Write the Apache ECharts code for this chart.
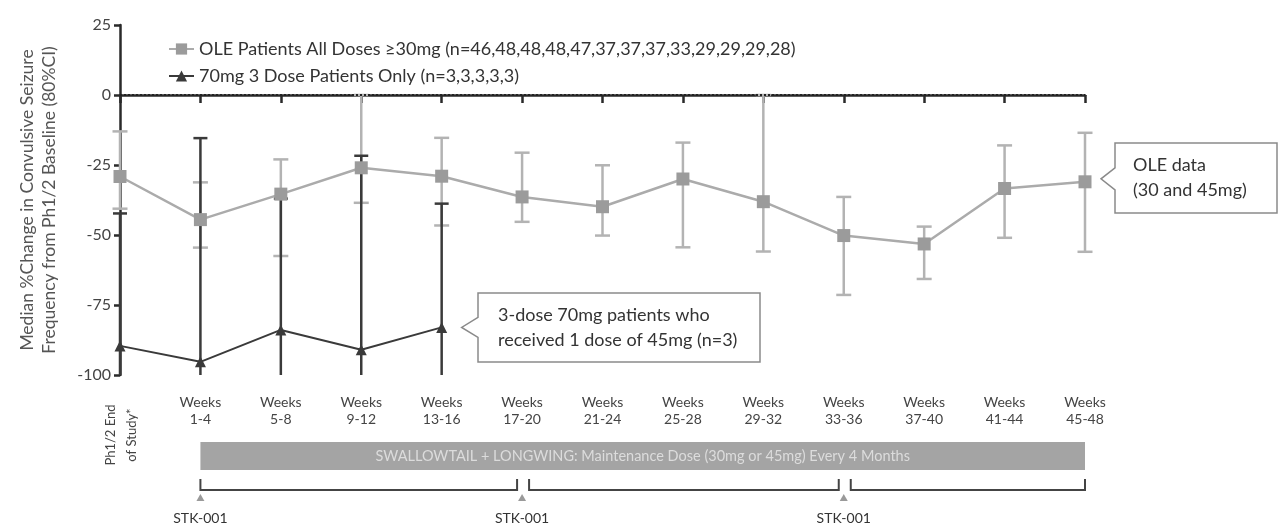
<!DOCTYPE html>
<html>
<head>
<meta charset="utf-8">
<script src="https://cdn.jsdelivr.net/npm/echarts@6/dist/echarts.min.js"></script>
<style>
html,body{margin:0;padding:0;background:#fff;}
#main{width:1279px;height:526px;}
</style>
</head>
<body>
<div id="main"></div>
<script>
// ---- data ----
const categories = ['Ph1/2 End of Study*','Weeks 1-4','Weeks 5-8','Weeks 9-12','Weeks 13-16','Weeks 17-20','Weeks 21-24','Weeks 25-28','Weeks 29-32','Weeks 33-36','Weeks 37-40','Weeks 41-44','Weeks 45-48'];
const xLabels = ['Ph1/2 End\nof Study*','Weeks\n1-4','Weeks\n5-8','Weeks\n9-12','Weeks\n13-16','Weeks\n17-20','Weeks\n21-24','Weeks\n25-28','Weeks\n29-32','Weeks\n33-36','Weeks\n37-40','Weeks\n41-44','Weeks\n45-48'];
const yTicks = [25, 0, -25, -50, -75, -100];

const oleName = 'OLE Patients All Doses \u226530mg (n=46,48,48,48,47,37,37,37,33,29,29,29,28)';
const oleMedian = [-29.1, -44.5, -35.4, -26.0, -29.0, -36.4, -39.9, -30.0, -38.1, -50.2, -53.2, -33.4, -31.0];
const oleLower  = [-40.6, -54.5, -57.5, -38.5, -46.6, -45.3, -50.2, -54.4, -55.9, -71.4, -65.7, -51.0, -56.0];
const oleUpper  = [-13.0, -31.2, -23.0,   0.0, -15.3, -20.6, -25.1, -17.0,   0.0, -36.4, -47.0, -18.0, -13.5];

const d70Name = '70mg 3 Dose Patients Only (n=3,3,3,3,3)';
const d70Median = [-89.6, -95.3, -83.9, -91.0, -83.0];
const d70Lower  = [-100, -100, -100, -100, -100];
const d70Upper  = [-42.3, -15.4, -37.0, -21.7, -38.8];

const maintText = 'SWALLOWTAIL + LONGWING: Maintenance Dose (30mg or 45mg) Every 4 Months';
const maintStart = 1, maintEnd = 12;
const doseIdx = [1, 5, 9];
const doseLabel = 'STK-001';
const callout70 = ['3-dose 70mg patients who', 'received 1 dose of 45mg (n=3)'];
const calloutOle = ['OLE data', '(30 and 45mg)'];

// ---- chart ----
const FONT = 'Lato';
const chart = echarts.init(document.getElementById('main'));

function errRender(color, capW, lw) {
  return function (params, api) {
    const i = api.value(0);
    const lo = api.value(1), hi = api.value(2);
    const p1 = api.coord([i, hi]);
    const p2 = api.coord([i, lo]);
    const ch = [
      {type:'line', shape:{x1:p1[0], y1:p1[1], x2:p2[0], y2:p2[1]}, style:{stroke:color, lineWidth:lw}},
      {type:'line', shape:{x1:p1[0]-capW/2, y1:p1[1], x2:p1[0]+capW/2, y2:p1[1]}, style:{stroke:color, lineWidth:lw}}
    ];
    if (lo > -100) {
      ch.push({type:'line', shape:{x1:p2[0]-capW/2, y1:p2[1], x2:p2[0]+capW/2, y2:p2[1]}, style:{stroke:color, lineWidth:lw}});
    }
    return {type: 'group', children: ch};
  };
}

const GRAY_LINE = '#ababab', GRAY_MARK = '#9b9b9b', GRAY_ERR = '#b3b3b3';
const DARK = '#3a3a3a';

const option = {
  animation: false,
  backgroundColor: '#ffffff',
  textStyle: {fontFamily: FONT},
  grid: {left: 120, right: 194, top: 25, bottom: 151, containLabel: false},
  legend: {
    orient: 'vertical', left: 163, top: 35, itemWidth: 25, itemHeight: 14, itemGap: 9,
    textStyle: {fontFamily: FONT, fontSize: 18, color: '#333'},
    data: [oleName, d70Name]
  },
  xAxis: {
    type: 'category', data: categories, boundaryGap: false,
    axisLine: {lineStyle: {color: '#2a2a2a', width: 2.5}},
    axisTick: {show: true, length: 8, lineStyle: {color: '#2a2a2a', width: 2.5}},
    axisLabel: {
      margin: 19, fontFamily: FONT, fontSize: 14, color: '#444', lineHeight: 17, interval: 0,
      formatter: function (v, idx) { return idx === 0 ? '' : xLabels[idx]; }
    },
    splitLine: {show: false}
  },
  yAxis: {
    type: 'value', min: -100, max: 25, interval: 25,
    name: 'Median %Change in Convulsive Seizure\nFrequency from Ph1/2 Baseline (80%CI)',
    nameLocation: 'middle', nameGap: 60, nameRotate: 90,
    nameTextStyle: {fontFamily: FONT, fontSize: 17.5, color: '#555', lineHeight: 22},
    axisLine: {show: true, lineStyle: {color: '#2a2a2a', width: 2.5}},
    axisTick: {show: true, length: 6, lineStyle: {color: '#2a2a2a', width: 2.5}},
    axisLabel: {fontFamily: FONT, fontSize: 16, color: '#444', margin: 9,
      formatter: function (v) { return yTicks.indexOf(v) >= 0 ? String(v) : ''; }},
    splitLine: {show: false}
  },
  series: [
    {
      name: 'oleErr', type: 'custom', z: 1,
      renderItem: errRender(GRAY_ERR, 15, 2.5),
      encode: {x: 0, y: [1, 2]},
      data: oleMedian.map((v, i) => [i, oleLower[i], oleUpper[i]]),
      silent: true
    },
    {
      name: 'd70Err', type: 'custom', z: 2,
      renderItem: errRender(DARK, 14, 2.5),
      encode: {x: 0, y: [1, 2]},
      data: d70Median.map((v, i) => [i, d70Lower[i], d70Upper[i]]),
      silent: true
    },
    {
      name: d70Name, type: 'line', z: 3,
      data: d70Median,
      symbol: 'triangle', symbolSize: 11,
      itemStyle: {color: DARK},
      lineStyle: {color: DARK, width: 2}
    },
    {
      name: oleName, type: 'line', z: 4,
      data: oleMedian,
      symbol: 'rect', symbolSize: 13,
      itemStyle: {color: GRAY_MARK},
      lineStyle: {color: GRAY_LINE, width: 2.5},
      markLine: {
        silent: true, symbol: 'none', label: {show: false},
        lineStyle: {color: '#222', type: [2, 2], width: 2},
        data: [{yAxis: 0}]
      }
    }
  ]
};
chart.setOption(option);

// ---- annotations positioned through the axes ----
function px(i, v) { return chart.convertToPixel({gridIndex: 0}, [i, v]); }
const g = [];
// rotated first tick label
const p0 = px(0, -100);
g.push({type: 'text', x: p0[0] + 1, y: p0[1] + 60, rotation: Math.PI / 2,
  style: {text: xLabels[0], fontFamily: FONT, fontSize: 13, fill: '#444', align: 'center', verticalAlign: 'middle', lineHeight: 21}});

// maintenance bar
const xs = px(maintStart, -100)[0], xe = px(maintEnd, -100)[0];
g.push({type: 'rect', shape: {x: xs, y: 442, width: xe - xs, height: 28}, style: {fill: '#a4a4a4'}});
g.push({type: 'text', x: (xs + xe) / 2, y: 456,
  style: {text: maintText, fontFamily: FONT, fontSize: 14.5, fill: '#dcdcdc', align: 'center', verticalAlign: 'middle'}});

// brackets between doses
const bounds = doseIdx.concat([maintEnd]);
for (let k = 0; k < bounds.length - 1; k++) {
  let a = px(bounds[k], -100)[0];
  let b = px(bounds[k + 1], -100)[0];
  if (k > 0) a += 7;
  if (k < bounds.length - 2) b -= 5;
  g.push({type: 'polyline', shape: {points: [[a, 479], [a, 490], [b, 490], [b, 479]]},
    style: {stroke: '#444', lineWidth: 2, fill: null}});
}
// dose markers
doseIdx.forEach(function (i) {
  const x = px(i, -100)[0];
  g.push({type: 'polygon', shape: {points: [[x, 494], [x - 4, 501], [x + 4, 501]]}, style: {fill: '#9a9a9a'}});
  g.push({type: 'text', x: x, y: 518, style: {text: doseLabel, fontFamily: FONT, fontSize: 14, fill: '#333', align: 'center', verticalAlign: 'middle'}});
});

// callout boxes
function callout(left, top, right, bottom, tipX, tipY, notch, lines, textX) {
  g.push({type: 'polygon', shape: {points: [[left, top], [right, top], [right, bottom], [left, bottom],
    [left, tipY + notch], [tipX, tipY], [left, tipY - notch]]},
    style: {fill: '#fff', stroke: '#8a8a8a', lineWidth: 1.5}});
  g.push({type: 'text', x: textX, y: (top + bottom) / 2,
    style: {text: lines.join('\n'), fontFamily: FONT, fontSize: 18, fill: '#333', align: 'left', verticalAlign: 'middle', lineHeight: 25}});
}
const t70 = px(4, d70Median[4]);
callout(478, 293, 760, 362, t70[0] + 20, t70[1], 10, callout70, 498);
const tOle = px(12, oleMedian[12]);
callout(1115, 143, 1277, 213, tOle[0] + 16, tOle[1] - 3, 11, calloutOle, 1133);

chart.setOption({graphic: g});
</script>
</body>
</html>
